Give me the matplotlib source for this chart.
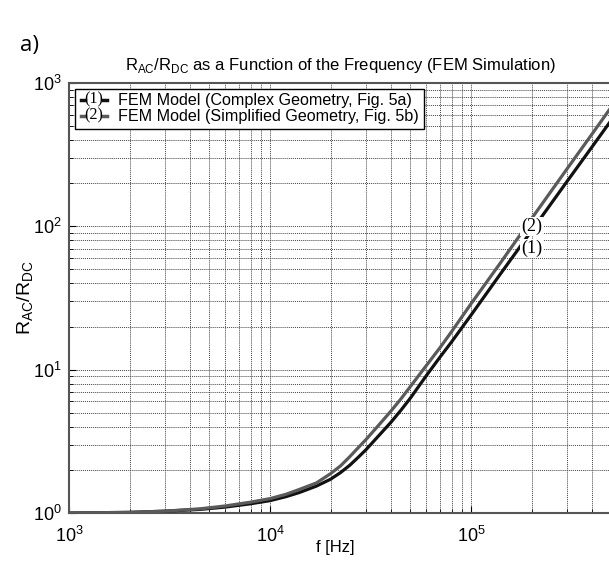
import numpy as np
import matplotlib
matplotlib.use('Agg')
import matplotlib.pyplot as plt
from matplotlib.lines import Line2D
from matplotlib.text import Text
from matplotlib.legend_handler import HandlerBase

plt.rcParams['font.family'] = ['Liberation Sans', 'DejaVu Sans']

# frequency [Hz]
freq = [1e3, 2e3, 3e3, 4.5e3, 6e3, 8e3, 1e4, 1.2e4, 1.4e4, 1.7e4, 2e4,
        2.25e4, 2.5e4, 2.75e4, 3e4, 3.5e4, 4e4, 4.5e4, 5e4, 6e4, 7e4, 8e4, 1e5,
        1.4e5, 2e5, 3e5, 4e5, 5e5]
# (1) complex geometry
r_complex = [1.00, 1.01, 1.03, 1.06, 1.10, 1.16, 1.22, 1.30, 1.39, 1.54, 1.72,
             1.92, 2.16, 2.45, 2.76, 3.5, 4.3, 5.25, 6.35, 9.1, 12.2, 15.6, 24.0,
             46.5, 93, 205, 358, 553]
# (2) simplified geometry
r_simple = [1.00, 1.01, 1.03, 1.07, 1.12, 1.19, 1.26, 1.35, 1.46, 1.62, 1.88,
            2.14, 2.48, 2.86, 3.25, 4.15, 5.15, 6.3, 7.65, 10.7, 14.2, 18.4, 28.8,
            55.5, 113, 251, 440, 683]

labels = ['FEM Model (Complex Geometry, Fig. 5a)',
          'FEM Model (Simplified Geometry, Fig. 5b)']
tags = ['(1)', '(2)']
colors = ['#111111', '#5a5a5a']


class TagHandler(HandlerBase):
    def __init__(self, tag):
        super().__init__()
        self.tag = tag

    def create_artists(self, legend, orig_handle, xdescent, ydescent,
                       width, height, fontsize, trans):
        y = height / 2 - ydescent
        c = orig_handle.get_color()
        l1 = Line2D([0.05 * width, 0.2 * width], [y, y], color=c, lw=2.5, transform=trans)
        l2 = Line2D([0.8 * width, 0.95 * width], [y, y], color=c, lw=2.5, transform=trans)
        t = Text(width / 2, y, self.tag, ha='center', va='center',
                 family='Liberation Serif', fontsize=fontsize, transform=trans)
        return [l1, l2, t]


fig = plt.figure(figsize=(6.09, 5.63), dpi=100)
ax = fig.add_axes([0.1133, 0.0888, 0.8908, 0.7638])

h1, = ax.loglog(freq, r_complex, color=colors[0], lw=2.3, zorder=3)
h2, = ax.loglog(freq, r_simple, color=colors[1], lw=2.3, zorder=3)

ax.set_xlim(1e3, 5e5)
ax.set_ylim(1, 1e3)

ax.grid(True, which='both', linestyle=(0, (1, 1)), color='#444444', lw=0.7)
ax.tick_params(which='both', direction='in', labelsize=13)
ax.tick_params(axis='x', which='major', pad=9)
ax.tick_params(axis='y', which='major', pad=5)
ax.tick_params(which='major', length=5)
ax.tick_params(which='minor', length=3)
for s in ax.spines.values():
    s.set_color('#555555')
    s.set_linewidth(1.5)

ax.text(2e5, 100, tags[1], family='Liberation Serif', fontsize=13,
        ha='center', va='center', zorder=4,
        bbox=dict(facecolor='white', edgecolor='none', pad=0.5))
ax.text(2e5, 70, tags[0], family='Liberation Serif', fontsize=13,
        ha='center', va='center', zorder=4,
        bbox=dict(facecolor='white', edgecolor='none', pad=0.5))

leg = ax.legend([h1, h2], labels, loc='upper left', fontsize=11.6,
                handler_map={h1: TagHandler(tags[0]), h2: TagHandler(tags[1])},
                fancybox=False, framealpha=1, edgecolor='black',
                borderaxespad=0.35, handlelength=1.8, handletextpad=0.6,
                labelspacing=0.05, borderpad=0.3)
leg.get_frame().set_linewidth(1.0)

ax.set_title(r'R$_{\mathregular{AC}}$/R$_{\mathregular{DC}}$ as a Function of the Frequency (FEM Simulation)',
             fontsize=12, pad=9)
ax.set_xlabel('f [Hz]', fontsize=12)
ax.set_ylabel(r'R$_{\mathregular{AC}}$/R$_{\mathregular{DC}}$', fontsize=14)
ax.xaxis.set_label_coords(0.49, -0.063)
ax.yaxis.set_label_coords(-0.06, 0.5)

fig.text(0.033, 0.92, 'a)', fontsize=16, family='Open Sans', va='center')

fig.savefig('out.png', dpi=100)
